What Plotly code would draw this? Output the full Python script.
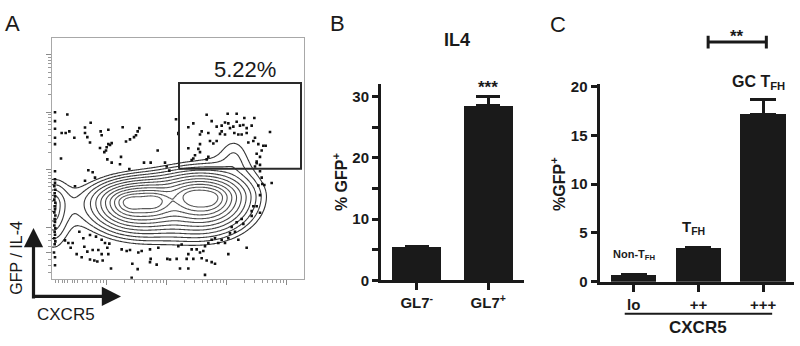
import numpy as np
import plotly.graph_objects as go

# ---------------- Panel A : flow cytometry (channel units 0..756) ----------------
dots_x = [9, 46, 9, 9, 29, 41, 52, 67, 99, 116, 99, 106, 114, 146, 149, 169, 212, 262, 257, 252,
          246, 234, 222, 169, 174, 164, 162, 144, 157, 179, 9, 9, 27, 317, 372, 379, 166, 179, 207, 204,
          276, 296, 339, 344, 352, 232, 109, 122, 99, 129, 9, 69, 9,
          39, 49, 62, 56, 82, 94, 97, 114, 132, 149, 159, 172, 166, 106, 122, 139, 149, 114, 127, 136,
          152, 169, 89, 177, 209, 224, 234, 259, 269, 294, 319, 346, 354, 296, 294, 314, 241, 239, 257,
          6, 9, 9, 74,
          464, 527, 554, 577, 607, 409, 424, 479, 494, 509, 519, 529, 534, 544, 554, 564, 574, 584, 599,
          584, 569, 559, 547, 519, 504, 509, 449, 444, 469, 654, 609, 604, 589, 619, 634, 641, 629, 614,
          624, 614, 609, 444, 439, 409, 444, 429, 424, 419, 474, 484, 494, 469, 464, 379, 614, 624,
          624, 629, 631, 619, 637, 659, 624, 604, 614, 599, 624, 599, 569, 574, 554, 539, 549, 534, 529,
          559, 584, 519, 509, 499, 489, 479, 469, 459, 454, 444, 434, 419, 409, 389, 379, 404, 424, 449,
          464, 479, 489, 529, 459, 384, 409, 374]
dots_y = [522, 515, 494, 470, 457, 457, 462, 442, 474, 489, 457, 444, 427, 462, 450, 467, 475, 472, 462, 450,
          444, 437, 430, 422, 419, 412, 402, 410, 397, 425, 422, 442, 377, 402, 500, 454, 374, 364, 382, 359,
          364, 364, 364, 352, 339, 344, 340, 334, 307, 317, 312, 290, 337,
          120, 112, 112, 97, 147, 127, 100, 137, 132, 122, 112, 110, 97, 85, 90, 90, 77, 60, 57, 54,
          57, 77, 67, 32, 92, 87, 90, 82, 87, 92, 97, 62, 60, 62, 52, 44, 47, 3, 30,
          82, 67, 42, 77,
          514, 517, 517, 504, 504, 475, 487, 494, 477, 480, 490, 487, 472, 477, 492, 480, 482, 472, 480,
          457, 452, 452, 457, 452, 454, 462, 462, 452, 457, 460, 442, 432, 427, 422, 417, 417, 402, 392,
          382, 367, 352, 422, 407, 409, 397, 387, 377, 372, 432, 424, 432, 382, 374, 457, 362, 357,
          337, 317, 297, 292, 294, 300, 262, 227, 227, 212, 207, 197, 187, 172, 177, 162, 147, 142, 127,
          122, 97, 112, 122, 112, 127, 122, 112, 102, 87, 82, 92, 92, 77, 107, 102, 62, 62, 64,
          57, 52, 47, 77, 12, 32, 32, 62]
edge_x = [8, 10, 7, 9, 8, 10, 7, 9, 8, 10, 7, 9, 8, 10, 7, 9, 8, 10, 7, 9]
edge_y = [108, 117, 127, 138, 147, 158, 167, 178, 187, 198, 208, 218, 227, 238, 248, 258, 268, 279, 290, 301]
gate_x = [381, 747, 747, 381, 381]
gate_y = [345, 345, 614, 614, 345]
gate_label = "5.22%"
gate_label_xy = [579, 657]

# density components
# (centre x, centre y, spread x, spread above, spread below, weight)
blob_x = [238, 302, 425, 470, 250, 4, 545]
blob_y = [240, 243, 256, 254, 225, 232, 370]
blob_sx = [32, 32, 35, 35, 120, 25, 55]
blob_su = [18, 18, 21, 21, 40, 40, 90]
blob_sd = [24, 24, 28, 28, 45, 70, 60]
blob_w = [1.8, 1.8, 1.7, 1.7, 0.06, 0.12, 0.035]
levels_lo, levels_hi, n_levels = 0.02, 1.0, 11

# ---------------- Panel B ----------------
b_cats = ["GL7<sup>-</sup>", "GL7<sup>+</sup>"]
b_vals = [5.5, 28.5]
b_err = [0.08, 1.6]
b_sig = "***"

# ---------------- Panel C ----------------
c_cats = ["lo", "++", "+++"]
c_vals = [0.75, 3.5, 17.15]
c_err = [0.04, 0.0, 1.55]
c_labels = ["Non-T<sub>FH</sub>", "T<sub>FH</sub>", "GC T<sub>FH</sub>"]
c_sig = "**"

W, H = 800, 346
def px(x):
    return x / W
def py(y):
    return 1 - y / H

FONT = "Liberation Sans, Arial, sans-serif"
INK = "#1a1a1a"

fig = go.Figure()

# contour density (exponential kernels)
gx = np.arange(0, 757, 4)
gy = np.arange(0, 757, 4)
X, Y = np.meshgrid(gx, gy)
Z = np.zeros_like(X, dtype=float)
for bx, by, sx, su, sd, w in zip(blob_x, blob_y, blob_sx, blob_su, blob_sd, blob_w):
    dy = Y - by
    sy = np.where(dy > 0, su, sd)
    r = np.sqrt(((X - bx) / sx) ** 2 + (dy / sy) ** 2)
    Z += w * np.exp(-r)
LZ = np.log(Z + 1e-12)
lo, hi = np.log(levels_lo), np.log(levels_hi)
step = (hi - lo) / (n_levels - 1)
fig.add_trace(go.Contour(
    x=gx, y=gy, z=LZ, xaxis="x", yaxis="y",
    contours=dict(coloring="lines", start=lo, end=hi + 1e-6, size=step),
    line=dict(width=1.1), colorscale=[[0, "#333333"], [1, "#5a5a5a"]],
    showscale=False, hoverinfo="skip"))
fig.add_trace(go.Scatter(x=dots_x + edge_x, y=dots_y + edge_y, mode="markers", xaxis="x", yaxis="y",
                         marker=dict(symbol="square", size=2.6, color="#111"), hoverinfo="skip"))
fig.add_trace(go.Scatter(x=gate_x, y=gate_y, mode="lines", xaxis="x", yaxis="y",
                         line=dict(color="#2a2a2a", width=2), hoverinfo="skip"))

# panel B bars
fig.add_trace(go.Bar(x=[0, 1], y=b_vals, xaxis="x2", yaxis="y2", width=0.69,
                     marker=dict(color=INK, line=dict(width=0)),
                     error_y=dict(type="data", symmetric=False, array=b_err, arrayminus=[0, 0],
                                  color=INK, thickness=3, width=12)))
# panel C bars
fig.add_trace(go.Bar(x=[0, 1, 2], y=c_vals, xaxis="x3", yaxis="y3", width=0.70,
                     marker=dict(color=INK, line=dict(width=0)),
                     error_y=dict(type="data", symmetric=False, array=c_err, arrayminus=[0, 0, 0],
                                  color=INK, thickness=3, width=13)))

# axis ticks for panel A (log-like decades)
decade = 180.0
xmaj = [162, 342, 522, 702]
ymaj = [81, 162, 342, 522, 702]
def minors(bases):
    out = []
    for b in bases:
        for k in range(2, 10):
            v = b + decade * np.log10(k)
            if 0 < v < 756:
                out.append(float(v))
    return out
xmin_t = minors([-18, 162, 342, 522]) + [10, 20, 30, 45, 60, 75]
ymin_t = minors([162, 342, 522]) + [20, 40, 60, 100, 120, 140]

axA = dict(showgrid=False, zeroline=False, showline=True, mirror=True, linecolor="#a8a8a8", linewidth=1,
           ticks="outside", ticklen=5, tickwidth=1, tickcolor="#8a8a8a", showticklabels=False,
           range=[0, 756])
tickB = dict(family=FONT, size=15, color=INK, weight="bold")

fig.update_layout(
    width=W, height=H, margin=dict(l=0, r=0, t=0, b=0), autosize=False,
    paper_bgcolor="white", plot_bgcolor="white", showlegend=False, bargap=0,
    font=dict(family=FONT, color=INK),
    xaxis=dict(axA, domain=[px(52), px(304)], anchor="y", tickvals=xmaj,
               minor=dict(tickvals=xmin_t, ticklen=3, tickcolor="#9a9a9a", ticks="outside")),
    yaxis=dict(axA, domain=[py(284), py(32)], anchor="x", tickvals=ymaj,
               minor=dict(tickvals=ymin_t, ticklen=3, tickcolor="#9a9a9a", ticks="outside")),
    xaxis2=dict(domain=[px(381), px(524)], anchor="y2", range=[-0.5, 1.5], showgrid=False, zeroline=False,
                showline=True, linecolor=INK, linewidth=3, ticks="outside", ticklen=7, tickwidth=3,
                tickcolor=INK, tickvals=[0, 1], ticktext=b_cats, tickfont=tickB),
    yaxis2=dict(domain=[py(285.7), py(81)], anchor="x2", range=[0, 32], showgrid=False, zeroline=False,
                showline=True, linecolor=INK, linewidth=3, ticks="outside", ticklen=6, tickwidth=3,
                tickcolor=INK, tickvals=[0, 5, 10, 15, 20, 25, 30],
                ticktext=["0", "", "10", "", "20", "", "30"], tickfont=tickB),
    xaxis3=dict(domain=[px(599.5), px(793.5)], anchor="y3", range=[-0.53, 2.47], showgrid=False,
                zeroline=False, showline=True, linecolor=INK, linewidth=3, ticks="outside", ticklen=7,
                tickwidth=3, tickcolor=INK, tickvals=[0, 1, 2], ticktext=c_cats, tickfont=tickB),
    yaxis3=dict(domain=[py(287.3), py(81)], anchor="x3", range=[0, 20.2], showgrid=False, zeroline=False,
                showline=True, linecolor=INK, linewidth=3, ticks="outside", ticklen=6, tickwidth=3,
                tickcolor=INK, tickvals=[0, 5, 10, 15, 20], tickfont=tickB),
)

def note(text, x, y, size, bold=False, xref="paper", yref="paper", angle=0, color=INK, **kw):
    fig.add_annotation(text=text, x=x, y=y, xref=xref, yref=yref, showarrow=False, textangle=angle,
                       font=dict(family=FONT, size=size, color=color, weight="bold" if bold else "normal"),
                       xanchor="center", yanchor="middle", **kw)

# panel letters
note("A", px(12), py(17), 22)
note("B", px(337), py(17), 22)
note("C", px(558), py(18), 22)

# panel A text
note(gate_label, gate_label_xy[0], gate_label_xy[1], 22, xref="x", yref="y")
note("GFP / IL-4", px(17), py(262), 16, angle=-90)
note("CXCR5", px(66), py(321.5), 17)
fig.add_annotation(x=px(33.5), y=py(231), xref="paper", yref="paper", ax=0, ay=72, text="",
                   showarrow=True, arrowhead=2, arrowwidth=3.2, arrowsize=1.2, arrowcolor=INK)
fig.add_annotation(x=px(121), y=py(302.5), xref="paper", yref="paper", ax=-89, ay=0, text="",
                   showarrow=True, arrowhead=2, arrowwidth=3.2, arrowsize=1.2, arrowcolor=INK)

# panel B text
note("IL4", px(457), py(35), 18, bold=True)
note("% GFP<sup>+</sup>", px(340), py(183), 16, bold=True, angle=-90)
note(b_sig, 1, py(84), 17, bold=True, xref="x2")

# panel C text
note("%GFP<sup>+</sup>", px(558), py(185), 16, bold=True, angle=-90)
note(c_labels[0], 0.01, 2.75, 11, bold=True, xref="x3", yref="y3")
note(c_labels[1], 0.93, 5.6, 15, bold=True, xref="x3", yref="y3")
note(c_labels[2], 1.93, py(79), 16, bold=True, xref="x3")
note("CXCR5", px(697.7), py(335), 17, bold=True)
note(c_sig, 1.6, py(31), 17, bold=True, xref="x3")

# significance bracket and CXCR5 underline (x in category units)
br_x = [1.15, 2.05]
fig.add_shape(type="line", xref="x3", yref="paper", x0=br_x[0], x1=br_x[1], y0=py(36.7), y1=py(36.7),
              line=dict(color=INK, width=3))
for bx in br_x:
    fig.add_shape(type="line", xref="x3", yref="paper", x0=bx, x1=bx, y0=py(30), y1=py(43.5),
                  line=dict(color=INK, width=3))
ul_x = [-0.14, 2.14]
fig.add_shape(type="line", xref="x3", yref="paper", x0=ul_x[0], x1=ul_x[1], y0=py(320.7), y1=py(320.7),
              line=dict(color=INK, width=2))

fig.write_html("out.html", config={"displayModeBar": False, "staticPlot": True},
               post_script="document.body.style.margin='0px';")
